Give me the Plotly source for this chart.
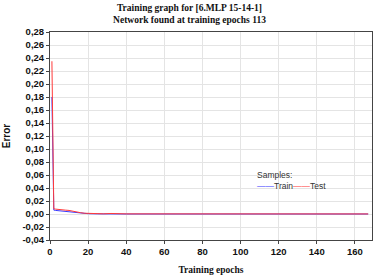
import plotly.graph_objects as go

train_epochs = [1, 2, 3, 4, 5, 6, 8, 10, 12, 14, 16, 18, 20, 25, 30, 40, 167]
train_error = [0.18, 0.006, 0.0055, 0.0052, 0.005, 0.0048, 0.0045, 0.004, 0.003, 0.002, 0.0015, 0.001, 0.0005, 0.0002, 0.0001, 0.0, 0.0]

test_epochs = [1, 2, 3, 4, 6, 8, 10, 12, 14, 16, 18, 20, 22, 25, 28, 32, 35, 38, 40, 167]
test_error = [0.235, 0.008, 0.0075, 0.007, 0.0068, 0.006, 0.0055, 0.004, 0.003, 0.002, 0.0012, 0.0008, 0.0004, 0.0006, 0.0003, 0.0008, 0.0004, 0.0009, 0.0002, 0.0001]

y_ticks = [-0.04, -0.02, 0.0, 0.02, 0.04, 0.06, 0.08, 0.10, 0.12, 0.14, 0.16, 0.18, 0.20, 0.22, 0.24, 0.26, 0.28]
y_ticktext = ["-0,04", "-0,02", "0,00", "0,02", "0,04", "0,06", "0,08", "0,10", "0,12", "0,14",
              "0,16", "0,18", "0,20", "0,22", "0,24", "0,26", "0,28"]
x_ticks = [0, 20, 40, 60, 80, 100, 120, 140, 160]

TRAIN_COLOR = "#3a3aff"
TEST_COLOR = "#ff3a3a"

fig = go.Figure()
fig.add_trace(go.Scatter(x=train_epochs, y=train_error, mode="lines", name="Train",
                         line=dict(color=TRAIN_COLOR, width=1), showlegend=False))
fig.add_trace(go.Scatter(x=test_epochs, y=test_error, mode="lines", name="Test",
                         line=dict(color=TEST_COLOR, width=1), showlegend=False))

axis_font = dict(family="Liberation Sans, Arial", size=9.5, color="#111111", weight="bold")
serif_bold = dict(family="Liberation Serif, Times New Roman", size=9.5, color="#111111", weight="bold")

fig.update_layout(
    width=379, height=279,
    margin=dict(l=49, r=6, t=32, b=36),
    paper_bgcolor="white", plot_bgcolor="white",
    title=dict(text="Training graph for [6.MLP 15-14-1]<br>Network found at training epochs 113",
               font=serif_bold, x=0.5, xanchor="center", yref="container", y=0.962, yanchor="top"),
    xaxis=dict(range=[0, 169], tickvals=x_ticks, tickfont=axis_font,
               title=dict(text="Training epochs", font=serif_bold, standoff=9),
               showgrid=True, gridcolor="#e4e4e4", gridwidth=1,
               showline=True, linecolor="#444444", linewidth=1, mirror=True,
               ticks="outside", ticklen=3, tickcolor="#444444", zeroline=False),
    yaxis=dict(range=[-0.04, 0.28], tickvals=y_ticks, ticktext=y_ticktext, tickfont=axis_font,
               title=dict(text="Error",
                          font=dict(family="Liberation Sans, Arial", size=10, color="#111111", weight="bold"),
                          standoff=9),
               showgrid=True, gridcolor="#e4e4e4", gridwidth=1,
               showline=True, linecolor="#444444", linewidth=1, mirror=True,
               ticks="outside", ticklen=3, tickcolor="#444444", zeroline=False),
    showlegend=False,
    annotations=[dict(
        text=("Samples:<br><span style='color:%s'>\u2014\u2014</span>Train"
              "<span style='color:%s'>\u2014\u2014</span>Test") % (TRAIN_COLOR, TEST_COLOR),
        xref="paper", yref="paper", x=0.636, y=0.345, xanchor="left", yanchor="top",
        align="left", showarrow=False,
        font=dict(family="Liberation Sans, Arial", size=8.5, color="#333333"))],
)

fig.write_html("out.html", config={"displayModeBar": False},
               post_script="document.body.style.margin='0';")
